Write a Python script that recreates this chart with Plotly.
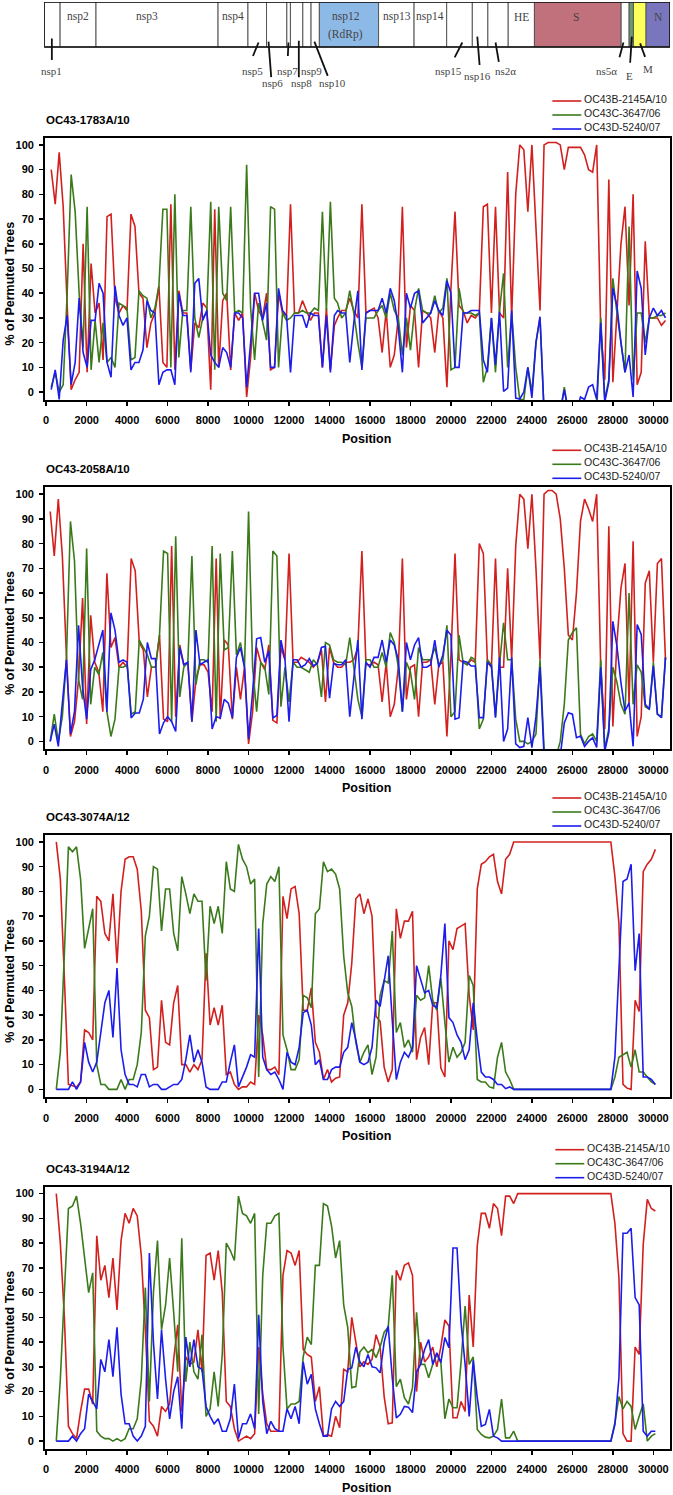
import numpy as np
import plotly.graph_objects as go

W, H = 673, 1495

# ---------------- series meta ----------------
series_names = ["OC43B-2145A/10", "OC43C-3647/06", "OC43D-5240/07"]
series_colors = ["#D2201F", "#3B7A1B", "#1C1CEC"]
panel_titles = ["OC43-1783A/10", "OC43-2058A/10", "OC43-3074A/12", "OC43-3194A/12"]

x_ticks = list(range(0, 30001, 2000))
y_ticks = list(range(0, 101, 10))

# ---------------- window positions ----------------
pos_p1 = list(np.linspace(250, 14240, 72)) + list(range(14400, 30601, 200))
pos_p2 = list(range(200, 30601, 200))
pos_p3 = list(range(500, 30101, 200))
pos_p4 = list(range(500, 30101, 200))

# ---------------- panel 1: OC43-1783A/10 ----------------
p1_red = [90, 76, 97, 75, 35, 1, 5, 8, 60, 8, 52, 32, 36, 13, 71, 72, 38, 32, 35, 33,
          72, 67, 40, 38, 18, 28, 32, 43, 12, 10, 76, 9, 41, 32, 32, 9, 28, 26, 36, 34,
          1, 74, 10, 37, 40, 9, 32, 29, 32, -2, 14, 40, 33, 30, 40, 9, 10, 40, 32, 31,
          76, 32, 32, 37, 33, 29, 32, 32, 10, 34, 9, 27,
          30, 33, 33, 38, 33, 30, 76, 32, 33, 34, 30, 16, 33, 10, 15, 30, 75, 18, 35, 33,
          10, 33, 32, 30, 16, 33, 30, 2, 42, 73, 35, 33, 28, 31, 30, 32, 75, 76,
          32, 75, 32, 30, 89, 30, 80, 100, 98, 73, 100, 65, 33, 100,
          101, 101, 101, 100, 90, 99, 99, 99, 99, 96, 90, 89, 100, 25, 5, 86, 4, 32, 60, 75,
          35, 80, 3, 8, 61, 30, 30, 30, 27, 29]
p1_green = [2, 8, 0, 3, 40, 88, 73, 40, 18, 75, 9, 29, 12, 28, 12, 14, 10, 36, 35, 34,
            13, 14, 41, 39, 38, 30, 34, 43, 74, 74, 10, 80, 14, 33, 33, 75, 30, 22, 30, 32,
            77, 9, 75, 40, 37, 75, 32, 33, 32, 92, 34, 13, 36, 29, 21, 75, 74, 10, 32, 29,
            30, 32, 32, 33, 32, 32, 34, 33, 73, 33, 77, 38,
            36, 30, 32, 41, 32, 20, 10, 30, 30, 30, 33, 35, 30, 40, 33, 30, 15, 30, 17, 33,
            42, 33, 32, 32, 39, 32, 34, 46, 9, 10, 42, 32, 32, 32, 31, 32, 4, 10,
            30, 8, 33, 48, 10, 32, 10, -3, -3, 10, 0, 20, 30, -8,
            -8, -8, -8, -8, 2, -8, -8, -8, -8, -8, -8, -8, -8, 30, -3, 5, 46, 32, 20, 8,
            67, 5, 32, 32, 20, 30, 30, 31, 31, 32]
p1_blue = [1, 9, -3, 21, 31, 3, 12, 38, 16, 10, 29, 29, 44, 40, 12, 6, 43, 31, 27, 30,
           9, 12, 12, 17, 37, 33, 32, 3, 8, 9, 9, 3, 40, 31, 31, 8, 44, 46, 29, 33,
           15, 12, 10, 18, 16, 10, 32, 32, 30, 2, 20, 40, 40, 29, 36, 10, 10, 42, 33, 31,
           8, 31, 31, 31, 26, 32, 31, 31, 10, 31, 8, 31,
           33, 32, 32, 12, 28, 41, 9, 32, 33, 33, 33, 38, 32, 42, 37, 26, 8, 40, 34, 40,
           41, 28, 30, 32, 37, 33, 31, 45, 40, 10, 10, 32, 32, 33, 33, 33, 13, 8,
           30, 11, 32.5, 0.3, 1.6, 33, -2.4, -2.8, 0, 10, -2.4, 20, 30.5, -8,
           -8, -8, -8, -8, 1, -8, -8, -8, -2, -3, 2, 3, -3, 28, -4, 4, 42, 35, 20, 8,
           15, -2, 49, 42, 15, 30, 34, 31, 33, 30]

# ---------------- panel 2: OC43-2058A/10 ----------------
p2_red = [93, 75, 98, 75, 35, 2, 8, 25, 58, 7, 51, 32, 28, 12, 68, 38, 42, 30, 32, 30,
          74, 69, 40, 37, 18, 30, 30, 43, 9, 8, 79, 10, 39, 31, 32, 8, 25, 31, 31, 28,
          12, 74, 9, 41, 39, 9, 30, 17, 30, -1, 12, 38, 32, 29, 39, 8.5, 7.5, 38, 33, 76,
          32, 32, 34, 33, 32, 30, 32, 37, 16, 38, 32,
          30, 30, 32, 32, 33, 38, 77, 31, 31, 32, 31, 16, 32, 10, 15, 30, 74, 17, 30, 31,
          10, 32, 32, 33, 15, 31, 32, 2, 35, 76, 33, 32, 31, 33, 32, 80, 76, 32, 30, 74,
          30, 30, 70, 33, 79, 100, 98, 78, 100, 70, 33, 100, 101.5, 101.5, 100, 90, 70, 43, 41, 60,
          89, 98, 94, 89, 100, 30, 5, 87, 6, 40, 62, 72, 15, 81, 2, 10, 64, 69, 32, 72,
          74, 33]
p2_green = [0, 11, 0, 10, 33, 89, 73, 25, 17, 78, 15, 30, 27, 36, 12, 2, 9, 30, 30, 31,
            11, 12, 41, 38, 35, 30, 30, 43, 77, 76, 8, 83, 18, 30, 32, 75, 23, 33, 33, 32,
            79, 8, 76, 37, 38, 77, 35, 40, 30, 93, 30, 12, 32, 30, 19, 77, 75, 14, 30, 16,
            32, 30, 30, 29, 28, 33, 31, 18, 40, 39, 33,
            32, 32, 31, 42, 30, 17, 10, 33, 33, 30, 30, 36, 30, 44, 40, 30, 12, 32, 28, 17,
            38, 33, 33, 33, 38, 31, 33, 47, 10, 12, 43, 32, 31, 34, 33, 5, 9, 33, 31, 10,
            31, 48, 33, 33, 9, 0, 0, -1, 0, 3, 33, -3, -6, -6, -6, 0, 15, 41, 44, 46,
            3, -1, 2, 3, 0, 33, -3, 5, 30, 24, 15, 11, 60, 15, 31, 28, 14, 13, 32, 11,
            10, 34]
p2_blue = [0, 7, -2, 15, 33, 3, 12, 47, 22, 9, 29, 33, 39, 45, 12, 52, 45, 32, 33, 32,
           9.5, 11.5, 11.5, 17, 40, 33.5, 33.5, 3, 7.5, 10, 8, 4, 38, 31, 32, 8, 45, 31, 32, 33,
           5, 10, 9.5, 17, 15.5, 9.5, 34, 38, 30, 1, 20, 41.5, 42, 32, 36.5, 9.5, 10.5, 41, 33, 8,
           33, 33, 30, 31, 33.5, 30.5, 31.5, 38, 38.5, 17.5, 31.5,
           31, 31, 33, 10, 25, 41, 9, 32, 30, 34, 34, 41, 32, 41, 39, 33, 12, 40, 33, 39,
           42, 30, 30, 31, 41, 30, 35, 45, 43, 9, 9.6, 32.5, 32, 30.5, 30.5, 9.6, 9.6, 32, 30.5, 9.6,
           34, 0, 5, 34, -1, -2.5, -2, 9.6, -2.5, 10, 30, -6, -6, -6, -6, -6, 7.5, 11.6, 11, 1.5,
           2.2, -2, 0, 1.5, -2.5, 30, -4, 3.5, 48.6, 38.5, 23.7, 12.3, 15.6, -2, 47.3, 43.3, 15, 13, 30.5, 11,
           9.6, 34]

# ---------------- panel 3: OC43-3074A/12 ----------------
p3_red = [100, 85, 45, 2, 1.5, 1, 3, 24, 23, 20, 78, 76, 63, 60, 79, 51, 80, 93, 94, 94,
          89, 72, 32, 29, 8, 9, 36, 19, 18, 35, 42, 10, 10, 7, 10, 8, 12, 55, 26, 33,
          26, 34, 6, 7, 2, 0, 1, 1, 3, 2, 30, 22, 8, 8, 9, 6, 78, 69, 81, 82,
          71, 32, 32, 41, 19, 15, 4, 8, 3, 4.5,
          5, 30, 35, 51, 77, 79, 71, 77, 70, 29.5, 27.5, 9, 3, 8, 73, 61, 68, 68, 72, 12,
          21, 25, 10, 35, 35, 8.6, 5, 60, 56.5, 65, 66, 67, 38, 24, 81, 91, 92, 94, 95, 84,
          79, 93, 95,
          100, 100, 100, 100, 100, 100, 100, 100, 100, 100, 100, 100, 100, 100, 100, 100,
          100, 100, 100, 100, 100, 100, 100, 100, 100,
          86, 67, 2, 0.5, 0, 36, 31.5, 88, 91, 93, 97]
p3_green = [0, 15, 55, 98, 96, 98, 85, 57, 65, 73, 10, 2, 2, 0, 0, 0, 4, 0, 4, 4,
            10, 23, 62, 70, 90, 89, 64, 81, 81, 63, 56, 86, 79, 71, 79, 76, 76, 44, 74, 67,
            74, 63, 92, 81, 80, 99, 93, 90, 83, 85, 5, 67, 83, 86, 84, 90, 22, 16, 8, 8,
            12, 38, 37, 33, 71, 73, 92, 88, 89, 87,
            81, 54, 39, 33.5, 19, 11, 15, 18, 6, 13, 38, 44, 43, 64, 23, 27, 17, 20, 15, 38,
            36, 37, 50, 36, 32, 45, 27, 11, 17, 13, 15, 19, 46, 42, 4, 3, 3, 1, 0.5, 13,
            19, 7, 4,
            0, 0, 0, 0, 0, 0, 0, 0, 0, 0, 0, 0, 0, 0, 0, 0, 0, 0, 0, 0, 0, 0, 0, 0, 0,
            5, 13, 14, 15, 9, 16, 7, 7, 5, 3, 2]
p3_blue = [0, 0, 0, 0, 3, 0, 3, 19, 11, 7, 11, 22, 35, 40, 21, 49, 16, 6, 2, 2,
           1, 6, 6, 1, 2, 2, 0, 0, 1, 2, 2, 4, 12, 22, 11, 16, 11, 1, 0, 0,
           0, 3, 3, 11, 18, 1, 5, 9, 14, 13, 65, 13, 8, 6, 7, 4, 0, 15, 11, 10,
           17, 31, 32, 26, 10, 12, 4, 4, 8, 9,
           9, 15, 17, 27, 20, 11, 10, 11, 17, 36, 33.5, 43, 54, 28, 4, 11, 15, 13, 17, 50,
           44, 39, 40, 34, 33, 46, 67, 29, 27, 22, 19, 12, 16, 35, 20, 7, 5, 5, 4, 2,
           2, 0.3, 1,
           0, 0, 0, 0, 0, 0, 0, 0, 0, 0, 0, 0, 0, 0, 0, 0, 0, 0, 0, 0, 0, 0, 0, 0, 0,
           13, 46, 84, 85, 91, 48, 63, 5, 5, 4, 2]

# ---------------- panel 4: OC43-3194A/12 ----------------
p4_red = [100, 80, 50, 6, 3, 1, 12, 21, 21, 15, 83, 65, 71, 58, 74, 53, 81, 92, 88, 94,
          91, 75, 45, 8, 6, 2, 14, 12, 15, 33, 47, 12, 34, 31, 32, 45, 28, 75, 76, 65,
          77, 60, 16, 14, 5, 0, 1, 2, 1, 3, 38, 19, 7, 4, 4, 4, 67, 77, 76, 71,
          77, 37, 35, 34, 16, 22, 2, 2.5, 2, 10,
          5.4, 29, 28, 50, 40, 30, 32, 31, 33, 43, 38, 18, 7, 7.4, 69, 65, 71, 72, 67, 20,
          40, 32, 34, 38, 30, 38, 49, 46.5, 9.4, 9.4, 16, 12, 59, 38, 79, 92, 92, 86, 96, 94,
          83, 99, 99, 96,
          100, 100, 100, 100, 100, 100, 100, 100, 100, 100, 100, 100, 100, 100, 100, 100,
          100, 100, 100, 100, 100, 100, 100, 100,
          88, 66, 3, 0, 0, 38, 35, 79.5, 97.7, 94, 93]
p4_green = [0, 25, 60, 94, 95, 99, 88, 74, 60, 68, 4, 2, 1, 1, 0, 1, 0, 1, 5, 5,
            9, 25, 62, 16, 60, 81, 45, 55, 74, 52, 28, 82, 24, 40, 28, 25, 43, 10, 13, 28,
            14, 35, 80, 77, 73, 99, 92, 91, 88, 92, 11, 67, 88, 88, 91, 92, 38, 13, 15, 15,
            16, 34, 42, 39, 71, 71, 96, 95, 87, 74,
            81, 55, 46, 21.6, 22, 36, 38, 35.7, 37, 33.7, 38, 44, 46, 67, 22, 25, 17.5, 15, 21.6, 52,
            31, 31, 25.6, 31, 35, 32, 9, 17, 13.5, 13.5, 32, 54.6, 31, 34, 4.7, 2.7, 1.6, 1.3, 2, 4.7,
            17, 1.3, 1.3, 4,
            0, 0, 0, 0, 0, 0, 0, 0, 0, 0, 0, 0, 0, 0, 0, 0, 0, 0, 0, 0, 0, 0, 0, 0,
            7.4, 18, 13, 16, 14, 4.7, 10, 15, 0, 2, 3]
p4_blue = [0, 0, 0, 0, 2, 0, 3, 5, 19, 16, 13, 33, 28, 41, 26, 46, 19, 7, 7, 2,
           0, 2, 6, 76, 40, 17, 45, 25, 9, 20, 26, 5, 42, 30, 41, 30, 29, 14, 10, 7,
           9, 4, 4, 9, 23, 1, 7, 7, 11, 5, 51, 16, 3, 8, 5, 4, 4, 13, 9, 14,
           7, 32, 23, 27, 13, 7, 2, 2, 13, 16,
           14, 16, 29, 29.6, 38, 32, 30, 35, 30, 29.6, 27.6, 40, 46.5, 25.6, 9.4, 10.8, 14, 13.7, 11.5, 28,
           31, 37, 41, 31, 35.7, 31.7, 41.8, 37.7, 78, 78, 47.8, 31, 10, 32.6, 17.5, 6, 6.7, 12.8, 2, 1.3,
           0, 0, 0, 0,
           0, 0, 0, 0, 0, 0, 0, 0, 0, 0, 0, 0, 0, 0, 0, 0, 0, 0, 0, 0, 0, 0, 0, 0,
           6.7, 25.6, 84, 84, 86, 58, 55, 4, 2, 4, 4]

panels = [
    (pos_p1, [p1_red, p1_green, p1_blue]),
    (pos_p2, [p2_red, p2_green, p2_blue]),
    (pos_p3, [p3_red, p3_green, p3_blue]),
    (pos_p4, [p4_red, p4_green, p4_blue]),
]

# ---------------- genome map (positions in nt) ----------------
genome_names = ["nsp1", "nsp2", "nsp3", "nsp4", "nsp5", "nsp6", "nsp7", "nsp8", "nsp9", "nsp10",
                "nsp12", "nsp13", "nsp14", "nsp15", "nsp16", "ns2α", "HE", "S", "ns5α", "E", "M", "N"]
genome_starts = [0, 783, 2546, 8540, 10009, 10920, 11919, 12095, 12703, 13109,
                 13516, 16424, 18168, 19769, 21028, 21792, 22791, 24079, 28339, 28731, 28940, 29563]
genome_length = 30738
genome_fill = {"nsp12": "#8DB9E6", "S": "#C0717B", "E": "#6E9A72", "M": "#FFFF5C", "N": "#7A76BE"}

# labels inside the box: (text, nt, relative height)
inner_labels = [("nsp2", 1685, 0.67), ("nsp3", 5063, 0.67), ("nsp4", 9275, 0.67),
                ("nsp12", 14823, 0.67), ("(RdRp)", 14823, 0.27), ("nsp13", 17306, 0.67),
                ("nsp14", 18951, 0.67), ("HE", 23427, 0.67), ("S", 26136, 0.67), ("N", 30166, 0.67)]
# labels below the box with leader lines: (text, label nt, label y, line x0, y0, x1, y1)
outer_labels = [
    ("nsp1", 377, -0.527, 377, 0.19, 377, -0.29),
    ("nsp5", 10254, -0.527, 10529, 0.10, 10254, -0.20),
    ("nsp6", 11234, -0.793, 11018, 0.12, 11151, -0.67),
    ("nsp7", 11934, -0.527, 11998, 0.10, 11968, -0.20),
    ("nsp8", 12650, -0.793, 12507, 0.14, 12507, -0.67),
    ("nsp9", 13144, -0.527, None, None, None, None),
    ("nsp10", 14137, -0.793, 13271, 0.12, 13927, -0.64),
    ("nsp15", 19882, -0.527, 20538, 0.10, 20161, -0.23),
    ("nsp16", 21273, -0.644, 21273, 0.23, 21385, -0.40),
    ("ns2α", 22659, -0.527, 22169, 0.10, 22330, -0.33),
    ("ns5α", 27639, -0.527, 28452, 0.10, 28256, -0.23),
    ("E", 28731, -0.644, 28863, 0.23, 28780, -0.35),
    ("M", 29676, -0.496, 29269, 0.08, 29514, -0.22),
]

# ---------------- layout geometry (pixels) ----------------
def px(x):
    return x / W

def py(y):
    return 1 - y / H

X_DOMAIN = [px(43.3), px(670)]
X_RANGE = [-49, 30823]
Y_RANGE = [-3.2, 102.8]
boxes = [(138, 400), (487.3, 749.3), (835, 1097.3), (1186.7, 1449)]
legend_dx = [0, 0, 0, 3]

SANS = "Liberation Sans, Arial, sans-serif"
SERIF = "Liberation Serif, DejaVu Serif, serif"

fig = go.Figure()
layout = dict(
    width=W, height=H, margin=dict(l=0, r=0, t=0, b=0),
    paper_bgcolor="white", plot_bgcolor="white",
    font=dict(family=SANS, color="black"),
    showlegend=False,
)
shapes = []
annotations = []

for i, (pos, series) in enumerate(panels):
    n = i + 1
    xa = "x" if n == 1 else f"x{n}"
    ya = "y" if n == 1 else f"y{n}"
    for s, vals in enumerate(series):
        fig.add_trace(go.Scatter(
            x=pos, y=vals, mode="lines", name=series_names[s],
            line=dict(color=series_colors[s], width=1.6),
            xaxis=xa, yaxis=ya, hoverinfo="skip"))
    top, bot = boxes[i]
    layout["xaxis" if n == 1 else f"xaxis{n}"] = dict(
        domain=X_DOMAIN, range=X_RANGE, anchor=ya, tickmode="array", tickvals=x_ticks,
        tickformat="d",
        ticks="outside", ticklen=4, tickwidth=1.5, tickcolor="black",
        showline=True, linewidth=2, linecolor="black", mirror=True,
        showgrid=False, zeroline=False, ticklabelstandoff=5,
        tickfont=dict(family=SANS, size=11, color="black", weight="bold"))
    layout["yaxis" if n == 1 else f"yaxis{n}"] = dict(
        domain=[py(bot), py(top)], range=Y_RANGE, anchor=xa, tickmode="array", tickvals=y_ticks,
        ticks="outside", ticklen=4, tickwidth=1.5, tickcolor="black",
        showline=True, linewidth=2, linecolor="black", mirror=True,
        showgrid=False, zeroline=False, ticklabelstandoff=3,
        tickfont=dict(family=SANS, size=11, color="black", weight="bold"))
    # panel title
    annotations.append(dict(text=f"<b>{panel_titles[i]}</b>", x=px(41.7), y=py(top - 18),
                            xref="paper", yref="paper", xanchor="left", yanchor="middle",
                            showarrow=False, font=dict(family=SANS, size=11.5, color="black")))
    # y title
    annotations.append(dict(text="<b>% of Permuted Trees</b>", x=px(8), y=py((top + bot) / 2 + 14.5),
                            xref="paper", yref="paper", xanchor="center", yanchor="middle",
                            textangle=-90, showarrow=False,
                            font=dict(family=SANS, size=12.5, color="black")))
    # x title
    annotations.append(dict(text="<b>Position</b>", x=px(366), y=py(bot + 38.7),
                            xref="paper", yref="paper", xanchor="center", yanchor="middle",
                            showarrow=False, font=dict(family=SANS, size=12.5, color="black")))
    # legend
    for s in range(3):
        ry = top - 39 + 14 * s
        dx = legend_dx[i]
        shapes.append(dict(type="line", xref="paper", yref="paper",
                           x0=px(552 + dx), x1=px(581 + dx), y0=py(ry + 2), y1=py(ry + 2),
                           line=dict(color=series_colors[s], width=1.6)))
        annotations.append(dict(text=series_names[s], x=px(582 + dx), y=py(ry),
                                xref="paper", yref="paper", xanchor="left", yanchor="middle",
                                showarrow=False, font=dict(family=SANS, size=10.5, color="#222")))

# genome map subplot
fig.add_trace(go.Scatter(x=[None], y=[None], xaxis="x5", yaxis="y5", hoverinfo="skip",
                         mode="lines", showlegend=False))
layout["xaxis5"] = dict(domain=[px(42.3), px(670)], range=[0, genome_length], anchor="y5",
                        visible=False, fixedrange=True)
layout["yaxis5"] = dict(domain=[py(90), py(2)], range=[(47 - 90) / 45, 1], anchor="x5",
                        visible=False, fixedrange=True)

genome_ends = genome_starts[1:] + [genome_length]
for name, a, b in zip(genome_names, genome_starts, genome_ends):
    shapes.append(dict(type="rect", xref="x5", yref="y5", x0=a, x1=b, y0=0, y1=1,
                       fillcolor=genome_fill.get(name, "white"),
                       line=dict(color="#555", width=1), layer="above"))
shapes.append(dict(type="rect", xref="x5", yref="y5", x0=0, x1=genome_length, y0=0, y1=1,
                   fillcolor="rgba(0,0,0,0)", line=dict(color="#111", width=1.6), layer="above"))
for text, xn, yv in inner_labels:
    annotations.append(dict(text=text, x=xn, y=yv, xref="x5", yref="y5", showarrow=False,
                            xanchor="center", yanchor="middle",
                            font=dict(family=SERIF, size=11.5, color="#444")))
for text, xn, yv, lx0, ly0, lx1, ly1 in outer_labels:
    annotations.append(dict(text=text, x=xn, y=yv, xref="x5", yref="y5", showarrow=False,
                            xanchor="center", yanchor="middle",
                            font=dict(family=SERIF, size=11, color="#444")))
    if lx0 is not None:
        shapes.append(dict(type="line", xref="x5", yref="y5", x0=lx0, y0=ly0, x1=lx1, y1=ly1,
                           line=dict(color="#111", width=1.8), layer="above"))

layout["shapes"] = shapes
layout["annotations"] = annotations
fig.update_layout(**layout)

fig.write_html("out.html",
               config={"displayModeBar": False, "staticPlot": True},
               post_script="document.body.style.margin='0';document.body.style.padding='0';")
